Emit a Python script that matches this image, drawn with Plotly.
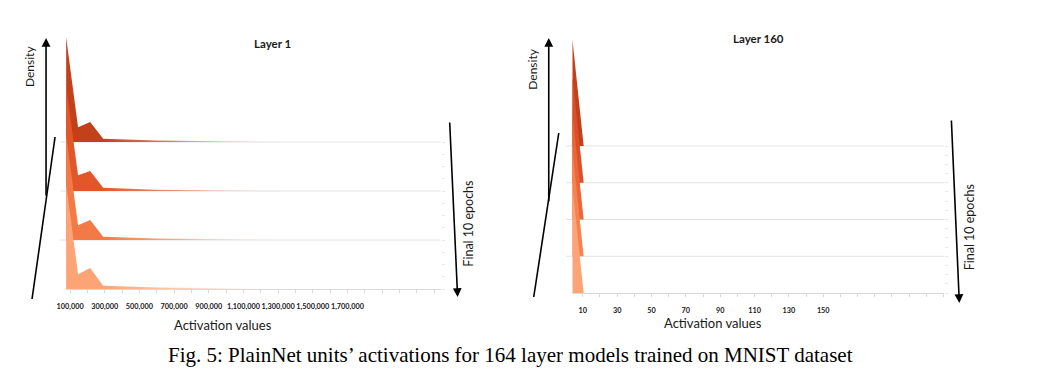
import plotly.graph_objects as go

W, H = 1040, 391

# ---------------- data ----------------
layer1_activation = [77000, 146000, 216000, 291000, 600000, 1000000, 1450000]
layer1_density = [
    [1.00, 0.14, 0.19, 0.03, 0.015, 0.008, 0.0],
    [1.00, 0.15, 0.19, 0.03, 0.012, 0.006, 0.0],
    [1.00, 0.14, 0.19, 0.03, 0.015, 0.008, 0.0],
    [1.00, 0.14, 0.20, 0.03, 0.014, 0.007, 0.0],
]
layer1_tickvals = [100000, 300000, 500000, 700000, 900000, 1100000, 1300000, 1500000, 1700000]
layer1_ticktext = ["100,000", "300,000", "500,000", "700,000", "900,000",
                   "1,100,000", "1,300,000", "1,500,000", "1,700,000"]

layer160_activation = [4.0, 10.5]
layer160_density = [
    [1.00, 0.0],
    [1.00, 0.0],
    [1.00, 0.0],
    [1.00, 0.0],
    [1.00, 0.0],
]
layer160_tickvals = [10, 30, 50, 70, 90, 110, 130, 150]
layer160_ticktext = ["10", "30", "50", "70", "90", "110", "130", "150"]

colors_l1 = [(194, 64, 26), (226, 87, 42), (243, 122, 70), (252, 164, 118)]
colors_l160 = [(194, 64, 26), (217, 80, 42), (236, 102, 54), (245, 131, 79), (252, 164, 118)]


def rgba(c, a=1.0):
    return f"rgba({c[0]},{c[1]},{c[2]},{a})"


def pxx(x):
    return ((x - 10) / 0.989) / W


def pxy(y):
    return 1 - y / H


fig = go.Figure()

# ---------------- layer 1 ridges ----------------
L1_SPACING = 49
L1_HEIGHT = 105
n1 = len(layer1_density)
for i, dens in enumerate(layer1_density):
    off = (n1 - 1 - i) * L1_SPACING
    xs = [layer1_activation[0]] + layer1_activation + [layer1_activation[-1]]
    ys = [off] + [off + d * L1_HEIGHT for d in dens] + [off]
    c = colors_l1[i]
    fig.add_trace(go.Scatter(
        x=xs, y=ys, xaxis="x", yaxis="y", mode="lines", fill="toself",
        line=dict(width=0, color=rgba(c)), fillcolor=rgba(c),
        fillgradient=dict(type="horizontal",
                          colorscale=[[0, rgba(c)], [0.15, rgba(c)], [0.45, rgba(c, 0.6)],
                                      [1, "rgba(255,255,255,0)"]],
                          start=layer1_activation[0], stop=layer1_activation[-1]),
        hoverinfo="skip", showlegend=False))

# ---------------- layer 160 ridges ----------------
L2_SPACING = 36.75
L2_HEIGHT = 106
n2 = len(layer160_density)
for i, dens in enumerate(layer160_density):
    off = (n2 - 1 - i) * L2_SPACING
    xs = [layer160_activation[0]] + layer160_activation + [layer160_activation[-1]]
    ys = [off] + [off + d * L2_HEIGHT for d in dens] + [off]
    c = colors_l160[i]
    fig.add_trace(go.Scatter(
        x=xs, y=ys, xaxis="x2", yaxis="y2", mode="lines", fill="toself",
        line=dict(width=0, color=rgba(c)), fillcolor=rgba(c),
        hoverinfo="skip", showlegend=False))

shapes = []
# baseline grid lines
for i in range(n1 - 1):
    off = (n1 - 1 - i) * L1_SPACING
    shapes.append(dict(type="line", xref="x domain", yref="y", x0=-0.015, x1=1, y0=off, y1=off,
                       line=dict(color="#e2e2e2", width=1), layer="below"))
for i in range(n2 - 1):
    off = (n2 - 1 - i) * L2_SPACING
    shapes.append(dict(type="line", xref="x2 domain", yref="y2", x0=-0.015, x1=1, y0=off, y1=off,
                       line=dict(color="#e2e2e2", width=1), layer="below"))

# slanted "depth" lines
for (x0, y0, x1, y1) in [(32, 299, 55, 137), (533, 297, 558, 133)]:
    shapes.append(dict(type="line", xref="paper", yref="paper",
                       x0=pxx(x0), y0=pxy(y0), x1=pxx(x1), y1=pxy(y1),
                       line=dict(color="black", width=1.6)))

annotations = []


def arrow(head, tail):
    annotations.append(dict(xref="paper", yref="paper", x=pxx(head[0]), y=pxy(head[1]),
                            ax=tail[0] - head[0], ay=tail[1] - head[1], axref="pixel", ayref="pixel",
                            text="", showarrow=True, arrowhead=2, arrowsize=1.1, arrowwidth=1.6,
                            arrowcolor="black"))


arrow((46, 38), (46, 197))
arrow((548, 38), (548, 203))
arrow((457, 297), (449, 121))
arrow((958, 303), (950, 119))


def text(x, y, t, size, angle=0, family="Lato", bold=False, color="#1a1a1a"):
    annotations.append(dict(xref="paper", yref="paper", x=pxx(x), y=pxy(y), text=t,
                            showarrow=False, textangle=angle, xanchor="center", yanchor="middle",
                            font=dict(family=family, size=size, color=color,
                                      weight="bold" if bold else "normal")))


text(272, 43, "Layer 1", 11.5, bold=True)
text(757, 38, "Layer 160", 11.5, bold=True)
text(30, 67, "Density", 12, angle=-90)
text(531, 69, "Density", 12, angle=-90)
text(467, 224, "Final 10 epochs", 12.5, angle=-90)
text(968, 227, "Final 10 epochs", 12.5, angle=-90)
text(223, 325, "Activation values", 13)
text(712, 323, "Activation values", 13)
text(510, 355, "Fig. 5: PlainNet units\u2019 activations for 164 layer models trained on MNIST dataset",
     21, family="Liberation Serif", color="black")

# axis mapping: 17.31 px per 100,000 with 100,000 at px 70
x1_range = [100000 + (66 - 70) / 17.31 * 100000, 100000 + (440 - 70) / 17.31 * 100000]
x2_range = [10 + (571 - 582) / 1.715, 10 + (943 - 582) / 1.715]

y1_ticks = [k * L1_SPACING / 4 for k in range(4 * (n1 - 1) + 1)]
y2_ticks = [k * L2_SPACING / 4 for k in range(4 * (n2 - 1) + 1)]

common_x = dict(showgrid=False, zeroline=False, showline=True, linecolor="#d9d9d9", linewidth=1,
                ticks="", tickangle=0,
                tickfont=dict(family="Lato", size=7.3, color="#1a1a1a", weight="bold"),
                ticklabelstandoff=10, fixedrange=True)
common_y = dict(showgrid=False, zeroline=False, showline=False, side="right", ticks="outside",
                ticklen=3, tickcolor="#e8e8e8", showticklabels=False, fixedrange=True,
                tickmode="array")

fig.update_layout(
    width=W, height=H, margin=dict(l=0, r=0, t=0, b=0),
    paper_bgcolor="white", plot_bgcolor="white", showlegend=False,
    xaxis=dict(domain=[pxx(66), pxx(440)], range=x1_range, anchor="y",
               tickmode="array", tickvals=layer1_tickvals, ticktext=layer1_ticktext,
               minor=dict(ticks="outside", ticklen=3, tickcolor="#d9d9d9", dtick=100000, tick0=0),
               **common_x),
    yaxis=dict(domain=[pxy(289), pxy(30)], range=[0, 259], anchor="x", tickvals=y1_ticks, **common_y),
    xaxis2=dict(domain=[pxx(571), pxx(943)], range=x2_range, anchor="y2",
                tickmode="array", tickvals=layer160_tickvals, ticktext=layer160_ticktext,
                minor=dict(ticks="outside", ticklen=3, tickcolor="#d9d9d9", dtick=10, tick0=0),
                **common_x),
    yaxis2=dict(domain=[pxy(293), pxy(30)], range=[0, 263], anchor="x2", tickvals=y2_ticks, **common_y),
    shapes=shapes, annotations=annotations,
)

fig.write_html("out.html", config={"displayModeBar": False},
               post_script="document.body.style.margin='0';")
